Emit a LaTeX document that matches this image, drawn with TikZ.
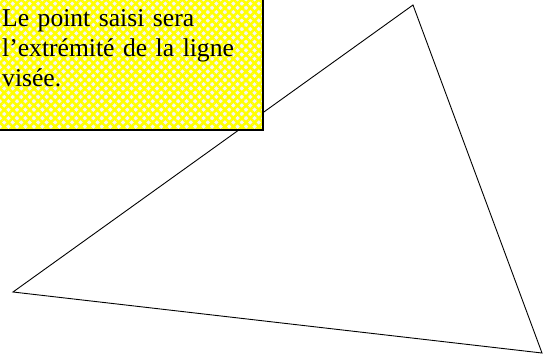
\documentclass[tikz,border=0pt]{standalone}
\usepackage{fontspec}
\setmainfont{Liberation Serif}
\usetikzlibrary{patterns.meta}
\tikzset{
  notefill/.style={pattern={Lines[angle=#1,distance=6pt,line width=2.6pt]}, pattern color=yellow},
  notetext/.style={anchor=base west, inner sep=0pt, text width=258pt, align=left,
    font=\fontsize{25.6}{30}\selectfont}
}
\begin{document}
\begin{tikzpicture}[x=1pt,y=-1pt]
  \useasboundingbox (0,0) rectangle (550,360);
  \clip (0,0) rectangle (550,360);

  % triangle
  \coordinate (t1) at (413,5);
  \coordinate (t2) at (13,292);
  \coordinate (t3) at (542,353);
  \draw[line width=0.9pt] (t1) -- (t2) -- (t3) -- cycle;

  % note box
  \coordinate (b1) at (-5,-5);
  \coordinate (b2) at (263,130);
  \fill[gray!8] (b1) rectangle (b2);
  \fill[notefill=45] (b1) rectangle (b2);
  \fill[notefill=-45] (b1) rectangle (b2);
  \draw[line width=2pt] (b1 |- b2) -- (b2) -- (b2 |- b1);
  \node[notetext] (note) at (2,26) {Le point saisi sera\\l’extrémité de la ligne\\visée.};
\end{tikzpicture}
\end{document}
